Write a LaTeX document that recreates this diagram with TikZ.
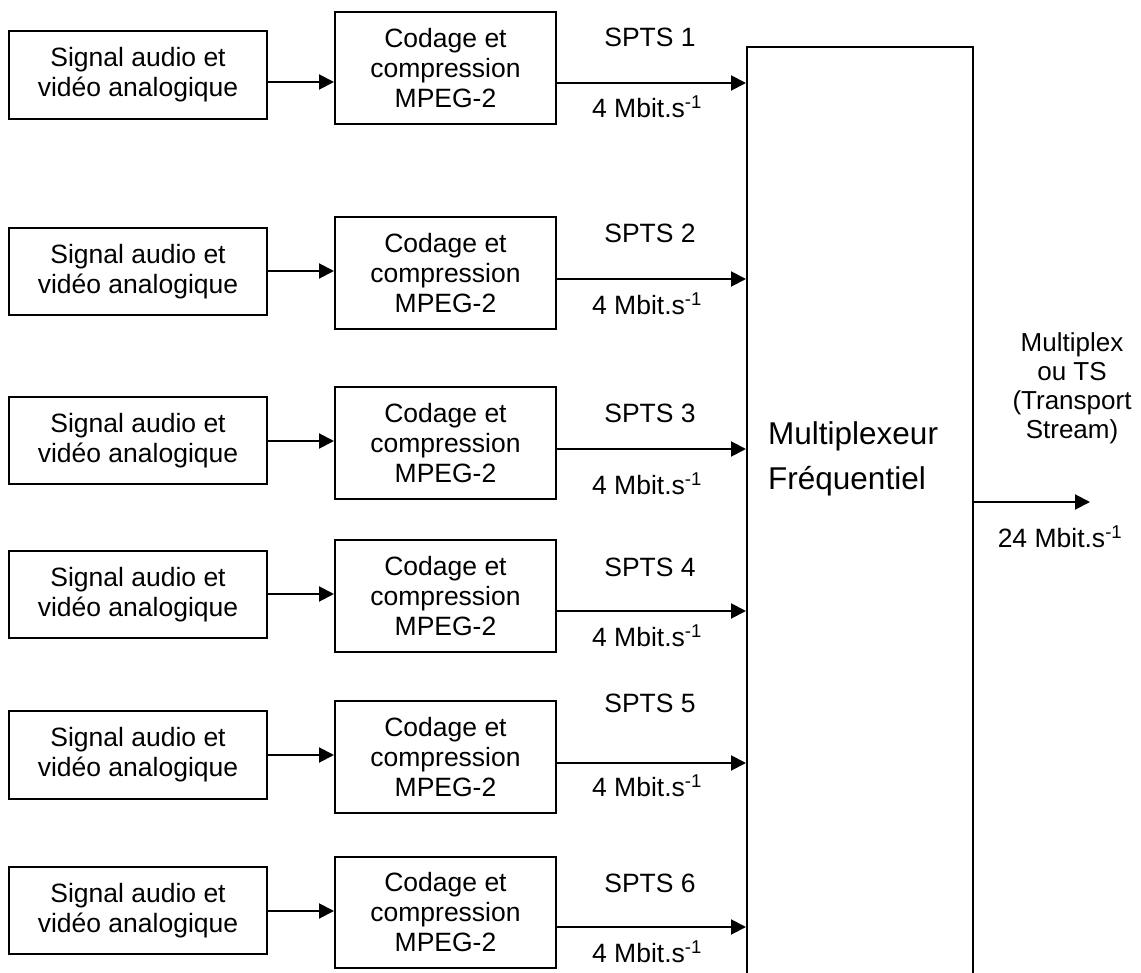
\documentclass[tikz,border=0pt]{standalone}
\usepackage{fontspec}
\setmainfont{Liberation Sans}
\usetikzlibrary{arrows.meta}
\begin{document}
\begin{tikzpicture}[x=1pt,y=-1pt,
  box/.style={draw,line width=2pt,inner sep=0pt,align=center,
    font=\fontsize{26.5}{30}\selectfont},
  lab/.style={inner sep=0pt,anchor=base,font=\fontsize{26.5}{30}\selectfont},
  arr/.style={line width=2pt,-{Triangle[length=15pt,width=15pt]}}]
\useasboundingbox (0,0) rectangle (1141,973);
\begin{scope}
\clip (0,0) rectangle (1141,973);
\node[draw,line width=2pt,anchor=north west,minimum width=226pt,minimum height=960pt,inner sep=0pt] (mux) at (746,46) {};
\end{scope}
\node[inner sep=0pt,anchor=north west,align=left,font=\fontsize{31.5}{45}\selectfont] (muxtext) at (768,421) {Multiplexeur\\Fr\'equentiel};
\foreach \i/\st/\sb/\ct/\cb/\aa/\ab/\sy/\my in {
  1/31/119/12/124/82/83/37/108,
  2/228/315/217/329/271/279/233/305,
  3/397/484/387/499/441/449/413/485,
  4/551/638/540/652/594/611/567/637,
  5/711/799/701/813/755/763/703/787,
  6/867/954/857/968/911/927/883/953}{
  \pgfmathsetmacro{\sh}{\sb-\st}
  \pgfmathsetmacro{\sc}{(\sb+\st)/2}
  \pgfmathsetmacro{\ch}{\cb-\ct}
  \pgfmathsetmacro{\cc}{(\cb+\ct)/2}
  \node[box,minimum width=258pt,minimum height=\sh pt] (sig\i) at (138,\sc) {Signal audio et\\vid\'eo analogique};
  \node[box,minimum width=221pt,minimum height=\ch pt] (cod\i) at (445.5,\cc) {Codage et\\compression\\MPEG-2};
  \draw[arr] (sig\i.east |- 0,\aa) -- (cod\i.west |- 0,\aa);
  \draw[arr] (cod\i.east |- 0,\ab) -- (mux.west |- 0,\ab);
  \node[lab] (spts\i) at (650,\sy+9.5) {SPTS \i};
  \node[lab] (rate\i) at (647,\my+9.5) {4 Mbit.s\textsuperscript{-1}};
}
\coordinate (outend) at (1090,502);
\draw[arr] (mux.east |- outend) -- (outend);
\node[inner sep=0pt,align=center,font=\fontsize{26}{29}\selectfont] (outlab) at (1072,388) {Multiplex\\ou TS\\(Transport\\Stream)};
\node[lab] (outrate) at (1060,538+9.5) {24 Mbit.s\textsuperscript{-1}};
\end{tikzpicture}
\end{document}
